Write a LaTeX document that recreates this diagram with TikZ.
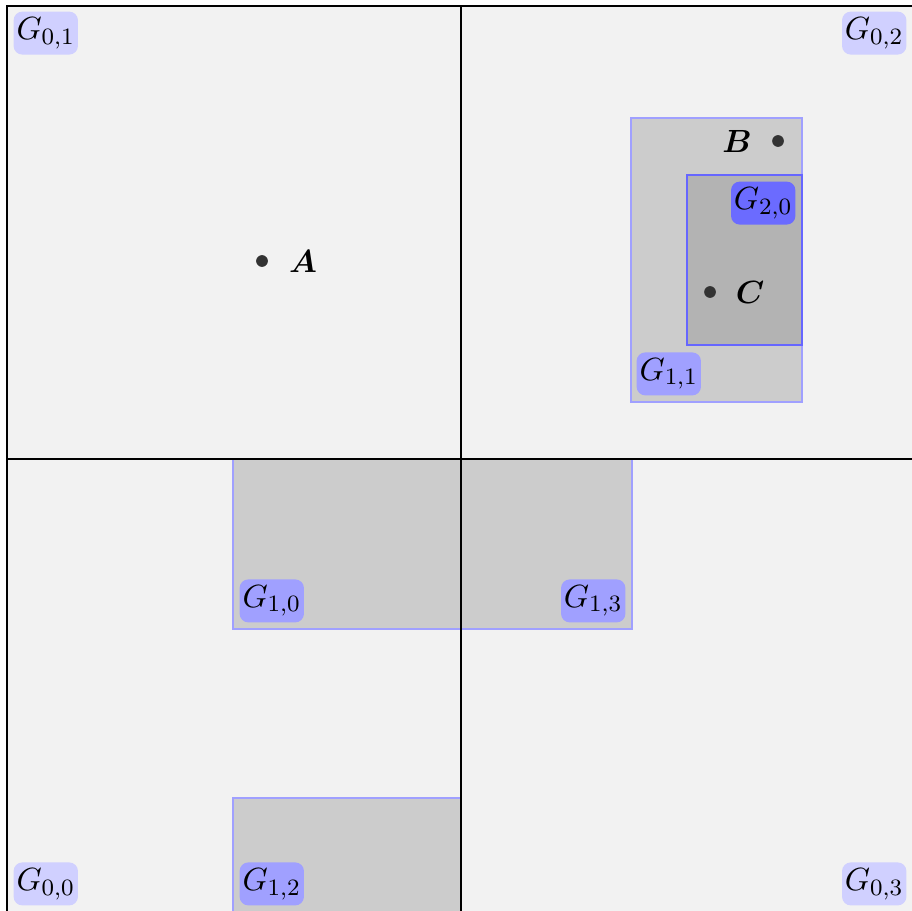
\documentclass[tikz,border=0pt]{standalone}
\usepackage{amsmath}
\usepackage{bm}
\definecolor{bgc}{HTML}{F2F2F2}
\definecolor{boxone}{HTML}{CCCCCC}
\definecolor{boxtwo}{HTML}{B3B3B3}
\definecolor{edgeone}{HTML}{A0A0FF}
\definecolor{edgetwo}{HTML}{6666FF}
\definecolor{labzero}{HTML}{D0D0FF}
\definecolor{labone}{HTML}{A0A0FF}
\definecolor{labtwo}{HTML}{6B6BFF}
\definecolor{dotc}{HTML}{333333}
\tikzset{
  every node/.style={font=\fontsize{10.8}{13}\selectfont},
  grid line/.style={line width=0.95pt, black},
  lvlone/.style={fill=boxone, draw=edgeone, line width=0.55pt},
  lvltwo/.style={fill=boxtwo, draw=edgetwo, line width=0.55pt},
  gl/.style={rounded corners=3pt, inner xsep=1pt, inner ysep=2pt},
  glzero/.style={gl, fill=labzero},
  glone/.style={gl, fill=labone},
  gltwo/.style={gl, fill=labtwo},
  pt/.style={circle, fill=dotc, inner sep=0pt, minimum size=4pt},
}
\begin{document}
\begin{tikzpicture}[x=0.012cm, y=-0.012cm]
\useasboundingbox (0,0) rectangle (912,911);
\clip (0,0) rectangle (912,911);
% background square
\fill[bgc] (7,6) rectangle (915,912);
% level-1 boxes
\filldraw[lvlone] (631,118) rectangle (802,402);
\filldraw[lvlone] (233,459) rectangle (461,629);
\filldraw[lvlone] (461,459) rectangle (632,629);
\filldraw[lvlone] (233,798) rectangle (461,920);
% level-2 box
\filldraw[lvltwo] (687,175) rectangle (802,345);
% grid lines
\draw[grid line] (7,6) rectangle (915,912);
\draw[grid line] (461,6) -- (461,912);
\draw[grid line] (7,459) -- (915,459);
% labels
\node[glzero, anchor=north west] (g01) at (13,11) {$G_{0,1}$};
\node[glzero, anchor=north east] (g02) at (907,11) {$G_{0,2}$};
\node[glzero, anchor=south west] (g00) at (13,906) {$G_{0,0}$};
\node[glzero, anchor=south east] (g03) at (907,906) {$G_{0,3}$};
\node[glone, anchor=south west] (g12) at (239,906) {$G_{1,2}$};
\node[glone, anchor=south west] (g10) at (239,623) {$G_{1,0}$};
\node[glone, anchor=south east] (g13) at (626,623) {$G_{1,3}$};
\node[glone, anchor=south west] (g11) at (636,396) {$G_{1,1}$};
\node[gltwo, anchor=north east] (g20) at (796,181) {$G_{2,0}$};
% points
\node[pt] (dotA) at (262,261) {};
\node (labA) at (303,261) {$\bm{A}$};
\node[pt] (dotB) at (778,141) {};
\node (labB) at (737,141) {$\bm{B}$};
\node[pt] (dotC) at (710,292) {};
\node (labC) at (750,292) {$\bm{C}$};
\end{tikzpicture}
\end{document}
